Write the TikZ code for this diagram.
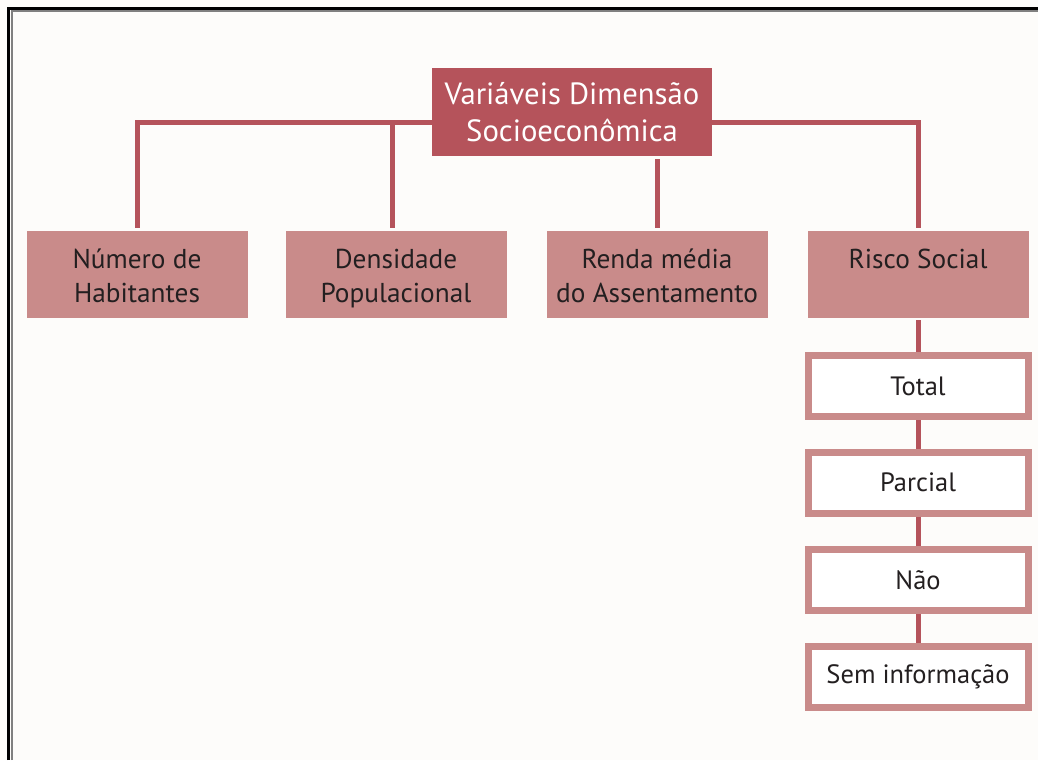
\documentclass[tikz,border=0pt]{standalone}
\usepackage{fontspec}
\setmainfont{PT Sans}
\definecolor{darkrose}{HTML}{B5535B}
\definecolor{rose}{HTML}{C98B8A}
\definecolor{ink}{HTML}{231F20}
\definecolor{paper}{HTML}{FDFCFA}
\newcommand\linestrut{\rule[-0.19\baselineskip]{0pt}{\baselineskip}}
\begin{document}
\begin{tikzpicture}[x=1pt,y=-1pt,
  headbox/.style={fill=darkrose,text=white,minimum width=280pt,minimum height=88pt,inner sep=0pt,align=center,font=\fontsize{30.7}{37}\selectfont},
  varbox/.style={fill=rose,text=ink,minimum width=221pt,minimum height=87pt,inner sep=0pt,align=center,font=\fontsize{27.3}{34}\selectfont},
  classbox/.style={draw=rose,line width=7pt,fill=white,text=ink,minimum width=220pt,minimum height=61pt,inner sep=0pt,font=\fontsize{26.5}{30}\selectfont},
  link/.style={draw=darkrose,line width=5pt}]
\fill[paper] (0,0) rectangle (1038,760);
\useasboundingbox (0,0) rectangle (1038,760);
% frame
\draw[line width=3pt] (8.5,760) -- (8.5,8.5) -- (1038,8.5);
\draw[gray,line width=2pt] (11.5,760) -- (11.5,11.5) -- (1038,11.5);

\coordinate (bar) at (0,122);

\node[varbox] (num) at (137,274.5) {\linestrut Número de\\\linestrut Habitantes};
\node[varbox] (dens) at (396,274.5) {\linestrut Densidade\\\linestrut Populacional};
\node[varbox] (renda) at (657,274.5) {\linestrut Renda média\\\linestrut do Assentamento};
\node[varbox] (risco) at (918,274.5) {\linestrut Risco Social\\\linestrut};

\draw[link,line cap=rect] (num.north |- bar) -- (risco.north |- bar);

\node[headbox] (head) at (572,112) {\linestrut Variáveis Dimensão\\\linestrut Socioeconômica};

\node[classbox] (total) at (918,386) {Total};
\node[classbox] (parcial) at (918,482.5) {Parcial};
\node[classbox] (nao) at (918,580) {Não};
\node[classbox] (seminfo) at (918,676.5) {Sem informação};

% ligacoes
\draw[link,shorten <=3pt] (num.north) -- (num.north |- bar);
\draw[link,shorten <=3pt] ([xshift=-4pt]dens.north) -- ([xshift=-4pt]dens.north |- bar);
\draw[link,shorten <=3pt] (risco.north) -- (risco.north |- bar);
\draw[link,shorten <=3pt,shorten >=3pt] (renda.north |- head.south) -- (renda.north);

\draw[link,shorten <=2pt] (risco.south) -- (total.north);
\draw[link] (total.south) -- (parcial.north);
\draw[link] (parcial.south) -- (nao.north);
\draw[link] (nao.south) -- (seminfo.north);
\end{tikzpicture}
\end{document}
